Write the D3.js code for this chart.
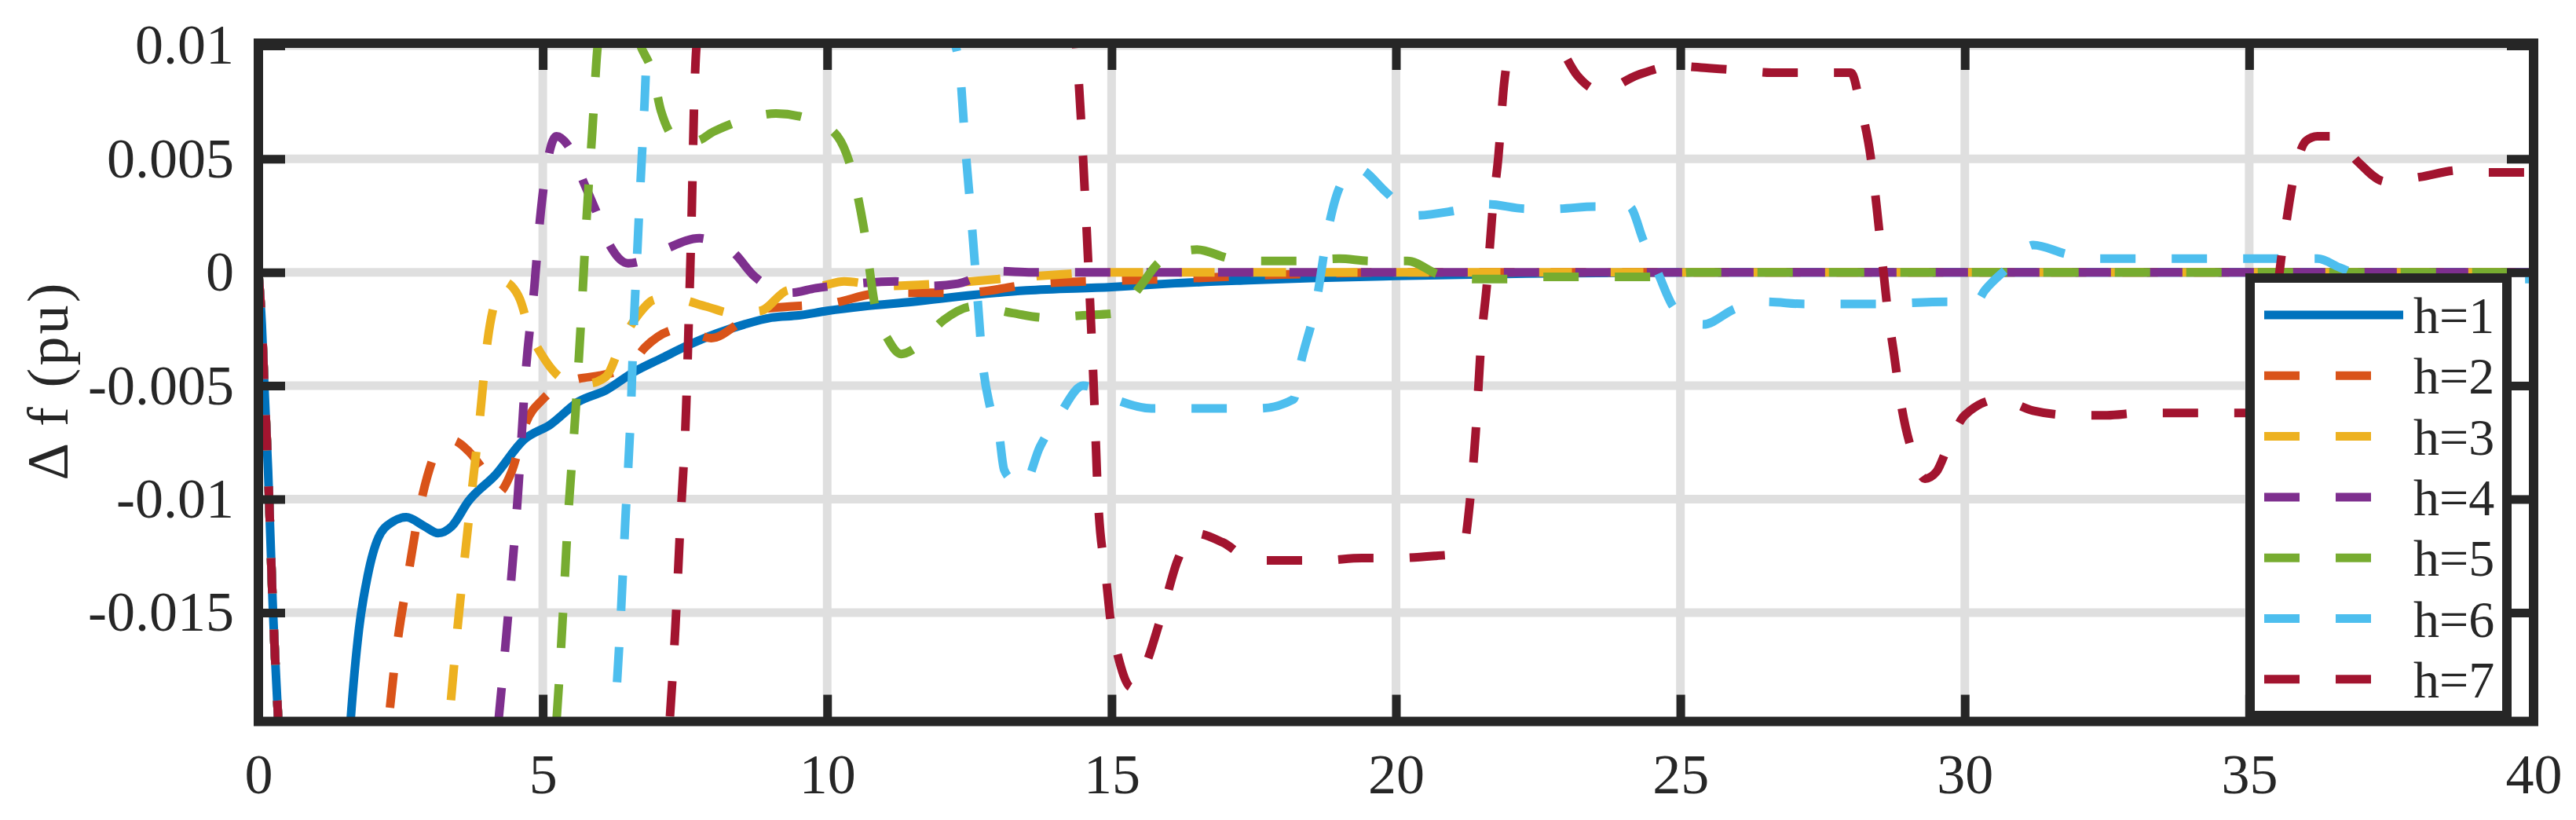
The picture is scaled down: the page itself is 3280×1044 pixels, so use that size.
<!DOCTYPE html>
<html>
<head>
<meta charset="utf-8">
<script src="https://cdn.jsdelivr.net/npm/d3@7"></script>
<style>
  body { margin: 0; background: #fff; }
  svg { display: block; }
  text { font-family: "Liberation Serif", "Times New Roman", serif; fill: #262626; }
</style>
</head>
<body>
<svg id="chart"></svg>
<script>
// tick values / labels
const xTicks = [0, 5, 10, 15, 20, 25, 30, 35, 40];
const xTickLabels = ["0", "5", "10", "15", "20", "25", "30", "35", "40"];
const yTicks = [-0.015, -0.01, -0.005, 0, 0.005, 0.01];
const yTickLabels = ["-0.015", "-0.01", "-0.005", "0", "0.005", "0.01"];

const seriesNames = ["h=1", "h=2", "h=3", "h=4", "h=5", "h=6", "h=7"];

// [time (s), delta f (pu)]; points beyond the axes are rough guesses (clipped)
const h1 = [[0,0],[0.06,-0.0023],[0.11,-0.0053],[0.17,-0.0087],[0.25,-0.0145],[0.35,-0.0198],[0.5,-0.027],
  [1.0,-0.034],[1.45,-0.027],[1.62,-0.0198],[1.77,-0.0157],[1.92,-0.0134],[2.11,-0.0117],[2.36,-0.011],
  [2.6,-0.0108],[2.92,-0.0112],[3.16,-0.0115],[3.4,-0.0112],[3.69,-0.0101],[4.18,-0.0089],[4.66,-0.0074],
  [5.14,-0.0067],[5.63,-0.0057],[6.11,-0.0052],[6.6,-0.0044],[7.08,-0.0038],[7.57,-0.0032],[8.05,-0.0027],
  [8.54,-0.0023],[9.02,-0.002],[9.5,-0.0019],[10,-0.0017],[10.64,-0.0015],[11.5,-0.0013],[12.58,-0.001],
  [13.5,-0.0008],[15,-0.00065],[16,-0.0005],[17.4,-0.00035],[18.5,-0.00025],[20,-0.00016],[22.3,-0.00005],
  [25,0],[30,0],[35,0],[40,0]];

const h2 = [[0,0],[0.06,-0.0023],[0.11,-0.0053],[0.17,-0.0087],[0.25,-0.0145],[0.35,-0.0198],[0.5,-0.027],
  [1.3,-0.036],[2.1,-0.026],[2.29,-0.0198],[2.43,-0.0166],[2.63,-0.0134],[2.82,-0.0106],[2.97,-0.009],
  [3.15,-0.0078],[3.4,-0.0074],[3.7,-0.0079],[3.98,-0.0088],[4.22,-0.0097],[4.45,-0.0088],[4.71,-0.0066],
  [5.0,-0.0056],[5.48,-0.0048],[6.11,-0.0045],[6.5,-0.0042],[6.8,-0.0033],[7.42,-0.0025],[7.96,-0.0029],
  [8.54,-0.0021],[8.92,-0.0016],[9.4,-0.0015],[10,-0.0014],[11,-0.0009],[12.4,-0.0009],[13.7,-0.0005],
  [16,-0.0003],[18,-0.0001],[20,0],[40,0]];

const h3 = [[0,0],[0.06,-0.0023],[0.11,-0.0053],[0.17,-0.0087],[0.25,-0.0145],[0.35,-0.0198],[0.5,-0.027],
  [1.8,-0.037],[3.0,-0.027],[3.35,-0.0198],[3.5,-0.0157],[3.69,-0.0111],[3.89,-0.0065],[4.03,-0.003],
  [4.18,-0.0011],[4.3,-0.0004],[4.45,-0.0006],[4.6,-0.0012],[4.76,-0.0025],[5.05,-0.0039],[5.44,-0.0048],
  [5.8,-0.0049],[6.11,-0.0046],[6.4,-0.003],[6.7,-0.0018],[6.99,-0.0012],[7.37,-0.0012],[7.86,-0.0015],
  [8.34,-0.0018],[8.83,-0.0017],[9.3,-0.0008],[9.9,-0.0006],[10.3,-0.0004],[11,-0.0006],[12,-0.0005],
  [13.5,-0.0002],[15,0],[40,0]];

const h4 = [[0,0],[0.06,-0.0023],[0.11,-0.0053],[0.17,-0.0087],[0.25,-0.0145],[0.35,-0.0198],[0.5,-0.027],
  [2.4,-0.037],[3.9,-0.027],[4.22,-0.0198],[4.37,-0.0157],[4.56,-0.0099],[4.71,-0.0041],[4.85,-0.0007],
  [4.95,0.0023],[5.1,0.0051],[5.24,0.006],[5.44,0.0056],[5.73,0.0039],[5.92,0.0028],[6.2,0.0011],
  [6.5,0.0004],[6.85,0.0006],[7.23,0.0011],[7.76,0.0015],[8.05,0.0013],[8.34,0.0009],[8.73,-0.0002],
  [9.36,-0.0009],[9.8,-0.0007],[10.5,-0.0005],[11.2,-0.0004],[11.8,-0.0006],[12.3,-0.0005],[13.0,0.00005],
  [13.6,0],[40,0]];

const h5 = [[0,0],[0.06,-0.0023],[0.11,-0.0053],[0.17,-0.0087],[0.25,-0.0145],[0.35,-0.0198],[0.5,-0.027],
  [2.5,-0.038],[4.8,-0.027],[5.24,-0.0198],[5.34,-0.0157],[5.44,-0.011],[5.58,-0.006],[5.68,-0.0018],
  [5.78,0.0028],[5.87,0.0062],[5.97,0.0101],[6.2,0.0125],[6.45,0.0122],[6.7,0.0101],[6.94,0.0087],
  [7.08,0.0071],[7.4,0.0058],[7.7,0.0058],[8.0,0.0062],[8.5,0.0067],[9.1,0.007],[9.75,0.0067],[10.18,0.006],
  [10.43,0.0045],[10.64,0.002],[10.85,-0.0016],[11.08,-0.003],[11.3,-0.0036],[11.57,-0.0033],[12.05,-0.0021],
  [12.58,-0.0015],[13.26,-0.0018],[13.84,-0.002],[14.5,-0.0019],[15.1,-0.0018],[15.48,-0.0007],[15.87,0.0005],
  [16.5,0.001],[17.1,0.0006],[17.7,0.0005],[18.3,0.0005],[19.0,0.0006],[19.55,0.0005],[20.2,0.0005],
  [20.76,-0.0001],[21.4,-0.0003],[22,-0.0003],[22.6,-0.0002],[24.5,-0.0002],[25.2,0],[40,0]];

const h6 = [[0,0],[0.06,-0.0023],[0.11,-0.0053],[0.17,-0.0087],[0.25,-0.0145],[0.35,-0.0198],[0.5,-0.027],
  [3.5,-0.038],[5.9,-0.027],[6.26,-0.0198],[6.36,-0.0157],[6.45,-0.011],[6.55,-0.006],[6.6,-0.0023],
  [6.65,0.0003],[6.7,0.003],[6.79,0.0075],[6.84,0.0101],[8.5,0.016],[10.5,0.016],[12.24,0.0101],
  [12.34,0.0087],[12.43,0.0055],[12.53,0.0025],[12.63,-0.0007],[12.73,-0.0039],[12.87,-0.006],[13.02,-0.0071],
  [13.11,-0.0087],[13.27,-0.0092],[13.45,-0.0094],[13.74,-0.0077],[14.08,-0.0063],[14.5,-0.005],[15.05,-0.0056],
  [15.7,-0.006],[16.3,-0.006],[17.0,-0.006],[17.6,-0.006],[18.2,-0.0056],[18.3,-0.0043],[18.6,-0.0013],
  [18.8,0.0018],[19.0,0.0037],[19.3,0.0046],[19.84,0.0035],[20.3,0.0025],[21.0,0.0027],[21.6,0.003],
  [22.3,0.0028],[22.8,0.0028],[23.5,0.0029],[24.1,0.0029],[24.35,0.0014],[24.6,0],[24.9,-0.0016],
  [25.4,-0.0023],[25.97,-0.0016],[26.5,-0.0013],[27.2,-0.0014],[28.4,-0.0014],[29.7,-0.0013],[30.2,-0.0013],
  [30.35,-0.0008],[30.8,0.0003],[31.2,0.0012],[31.8,0.0008],[32.4,0.0006],[36.2,0.0006],[36.6,0.0002],
  [37.2,-0.0003],[40,-0.0003]];

const h7 = [[0,0],[0.06,-0.0023],[0.11,-0.0053],[0.17,-0.0087],[0.25,-0.0145],[0.35,-0.0198],[0.5,-0.027],
  [4.0,-0.038],[6.9,-0.027],[7.23,-0.0198],[7.33,-0.0157],[7.42,-0.011],[7.52,-0.006],[7.57,-0.0018],
  [7.62,0.0028],[7.66,0.0074],[7.71,0.0101],[9.5,0.02],[11.5,0.022],[13.5,0.018],[14.37,0.0101],
  [14.42,0.0085],[14.52,0.004],[14.61,-0.0007],[14.69,-0.0053],[14.76,-0.0099],[14.9,-0.0134],[15.0,-0.0157],
  [15.08,-0.0166],[15.35,-0.0183],[15.53,-0.0177],[15.87,-0.0152],[16.16,-0.0127],[16.45,-0.0115],
  [16.95,-0.0119],[17.5,-0.0127],[18.15,-0.0127],[18.7,-0.0127],[19.4,-0.0126],[20.0,-0.0126],[20.7,-0.0125],
  [21.1,-0.0124],[21.2,-0.012],[21.3,-0.0101],[21.4,-0.0071],[21.5,-0.003],[21.6,-0.0005],[21.7,0.0028],
  [21.8,0.0051],[21.9,0.0083],[22.05,0.0101],[22.45,0.0109],[22.84,0.0101],[23.18,0.0087],[23.6,0.008],
  [24.25,0.0087],[24.9,0.0091],[25.5,0.009],[26.1,0.0089],[26.6,0.0088],[28.0,0.0088],[28.16,0.0074],
  [28.35,0.005],[28.45,0.0029],[28.55,0.0005],[28.65,-0.0018],[28.75,-0.0035],[28.88,-0.0058],[29.1,-0.0081],
  [29.3,-0.0091],[29.5,-0.0088],[29.7,-0.0077],[30.0,-0.0063],[30.6,-0.0056],[31.2,-0.0061],[31.9,-0.0063],
  [32.5,-0.0063],[33.1,-0.0062],[35.0,-0.0062],[35.3,-0.0045],[35.6,0.0013],[35.8,0.0044],[36.0,0.0058],
  [36.2,0.006],[36.5,0.006],[36.9,0.0049],[37.4,0.004],[38.0,0.0042],[38.7,0.0045],[39.2,0.0044],[40,0.0044]];

const seriesData = [h1, h2, h3, h4, h5, h6, h7];
const seriesColors = ["#0072BD", "#D95319", "#EDB120", "#7E2F8E", "#77AC30", "#4DBEEE", "#A2142F"];

const width = 3280, height = 1044;
const plot = { left: 329, right: 3226, top: 55, bottom: 918.5 };
const axisColor = "#262626";
const tickLen = 34;

const svg = d3.select("#chart")
    .attr("width", width)
    .attr("height", height);

svg.append("rect").attr("width", width).attr("height", height).attr("fill", "#fff");

const x = d3.scaleLinear().domain([0, 40]).range([plot.left, plot.right]);
const y = d3.scaleLinear().domain([-0.0198, 0.0101]).range([plot.bottom, plot.top]);

svg.append("defs").append("clipPath").attr("id", "plotClip")
    .append("rect")
    .attr("x", plot.left).attr("y", plot.top)
    .attr("width", plot.right - plot.left).attr("height", plot.bottom - plot.top);

// grid
const grid = svg.append("g").attr("stroke", "#dfdfdf").attr("stroke-width", 11);
grid.selectAll(".gx").data(xTicks.slice(1, -1)).enter().append("line")
    .attr("x1", d => x(d)).attr("x2", d => x(d))
    .attr("y1", plot.top).attr("y2", plot.bottom);
grid.selectAll(".gy").data(yTicks).enter().append("line")
    .attr("x1", plot.left).attr("x2", plot.right)
    .attr("y1", d => y(d)).attr("y2", d => y(d));

// lines
const line = d3.line()
    .x(d => x(d[0]))
    .y(d => y(d[1]))
    .curve(d3.curveMonotoneX);

const lines = svg.append("g").attr("clip-path", "url(#plotClip)");
seriesData.forEach((data, i) => {
    lines.append("path")
        .datum(data)
        .attr("fill", "none")
        .attr("stroke", seriesColors[i])
        .attr("stroke-width", 11)
        .attr("stroke-linejoin", "round")
        .attr("stroke-dasharray", i === 0 ? null : "45,46")
        .attr("d", line);
});

// axes (ticks pointing inward on all four sides)
function styleAxis(g) {
    g.select(".domain").remove();
    g.attr("font-family", null).attr("font-size", 72);
    g.selectAll(".tick line").attr("stroke", axisColor).attr("stroke-width", 11);
}

const gBottom = svg.append("g")
    .attr("transform", `translate(0,${plot.bottom})`)
    .call(d3.axisBottom(x).tickValues(xTicks).tickFormat((d, i) => xTickLabels[i])
        .tickSizeInner(-tickLen).tickSizeOuter(0))
    .call(styleAxis);
gBottom.selectAll(".tick text").attr("y", 91.5).attr("dy", 0);

svg.append("g")
    .attr("transform", `translate(${plot.left},0)`)
    .call(d3.axisLeft(y).tickValues(yTicks).tickFormat((d, i) => yTickLabels[i])
        .tickSizeInner(-tickLen).tickSizeOuter(0).tickPadding(31))
    .call(styleAxis);

svg.append("g")
    .attr("transform", `translate(0,${plot.top})`)
    .call(d3.axisTop(x).tickValues(xTicks).tickFormat("").tickSizeInner(-tickLen).tickSizeOuter(0))
    .call(styleAxis);

svg.append("g")
    .attr("transform", `translate(${plot.right},0)`)
    .call(d3.axisRight(y).tickValues(yTicks).tickFormat("").tickSizeInner(-tickLen).tickSizeOuter(0))
    .call(styleAxis);

// box
svg.append("rect")
    .attr("x", plot.left).attr("y", plot.top)
    .attr("width", plot.right - plot.left).attr("height", plot.bottom - plot.top)
    .attr("fill", "none").attr("stroke", axisColor).attr("stroke-width", 12);

// y label
svg.append("text")
    .attr("transform", `translate(86,486) rotate(-90)`)
    .attr("text-anchor", "middle")
    .attr("font-size", 74)
    .attr("textLength", 251)
    .attr("lengthAdjust", "spacing")
    .text("\u0394 f (pu)");

// legend
const legend = svg.append("g");
legend.append("rect")
    .attr("x", 2865).attr("y", 354)
    .attr("width", 327).attr("height", 557)
    .attr("fill", "#fff").attr("stroke", axisColor).attr("stroke-width", 12);

const item = legend.selectAll(".legend-item")
    .data(seriesNames)
    .enter().append("g")
    .attr("class", "legend-item")
    .attr("transform", (d, i) => `translate(0,${401 + i * 77.3})`);

item.append("line")
    .attr("x1", 2883).attr("x2", 3060)
    .attr("stroke", (d, i) => seriesColors[i])
    .attr("stroke-width", 11)
    .attr("stroke-dasharray", (d, i) => i === 0 ? null : "45,46");

item.append("text")
    .attr("x", 3073).attr("y", 23)
    .attr("font-size", 66)
    .text(d => d);
</script>
</body>
</html>
